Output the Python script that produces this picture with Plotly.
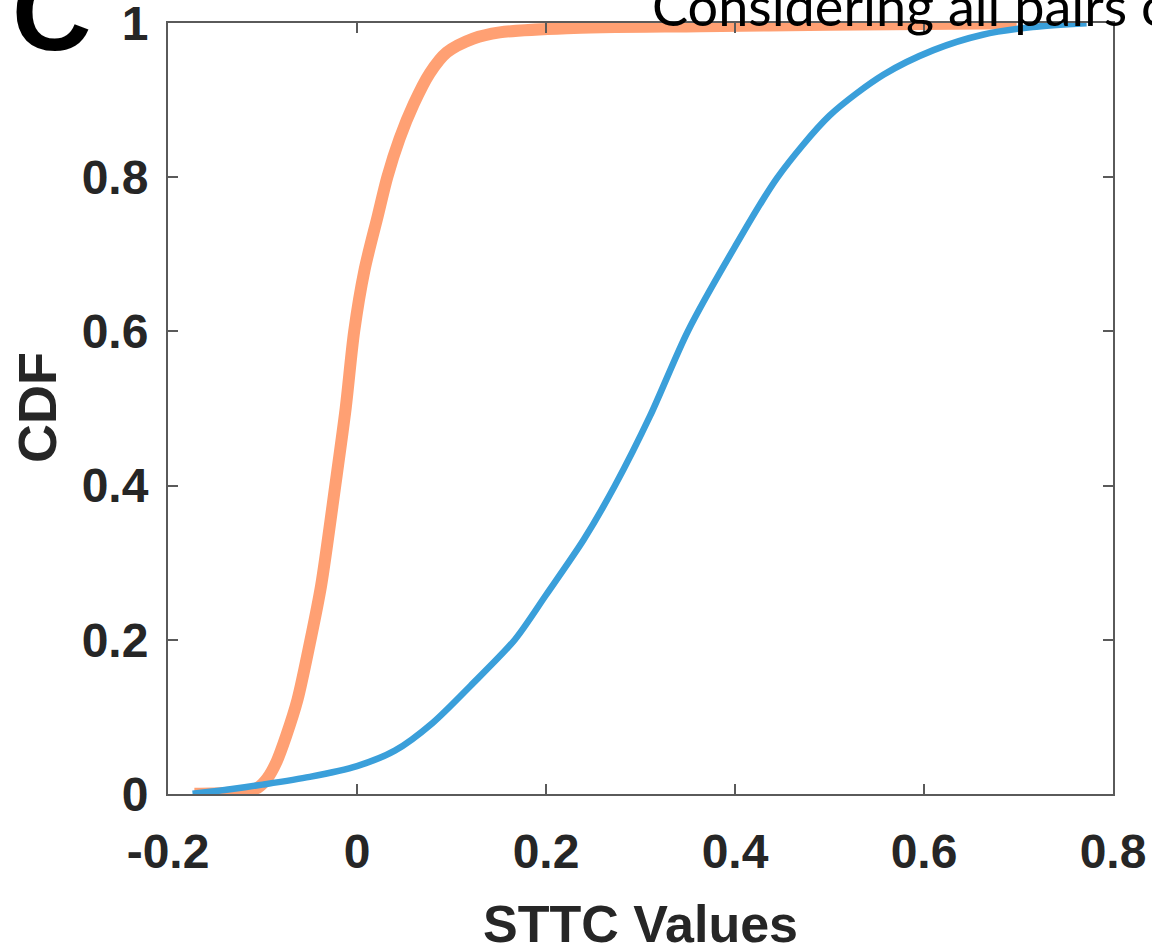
import plotly.graph_objects as go

# STTC values (x) and CDF (y)
orange_x = [-0.172, -0.14, -0.12, -0.105, -0.095, -0.085, -0.075, -0.063, -0.05, -0.038,
            -0.023, -0.012, -0.003, 0.008, 0.022, 0.032, 0.045, 0.06, 0.077, 0.095,
            0.123, 0.151, 0.222, 0.363, 0.5, 0.698]
orange_y = [0.0, 0.001, 0.003, 0.008, 0.02, 0.042, 0.075, 0.122, 0.195, 0.27,
            0.40, 0.50, 0.60, 0.68, 0.75, 0.80, 0.85, 0.895, 0.935, 0.962,
            0.980, 0.988, 0.9935, 0.996, 0.998, 1.0]

blue_x = [-0.174, -0.14, -0.10, -0.05, 0.0, 0.04, 0.08, 0.12, 0.167, 0.20, 0.24,
          0.273, 0.31, 0.35, 0.40, 0.445, 0.50, 0.557, 0.61, 0.662, 0.715, 0.772]
blue_y = [0.0, 0.005, 0.012, 0.022, 0.036, 0.056, 0.092, 0.140, 0.200, 0.258, 0.330,
          0.400, 0.490, 0.600, 0.710, 0.800, 0.880, 0.933, 0.965, 0.985, 0.995, 1.0]

x_ticks = [-0.2, 0, 0.2, 0.4, 0.6, 0.8]
x_tick_labels = ["-0.2", "0", "0.2", "0.4", "0.6", "0.8"]
y_ticks = [0, 0.2, 0.4, 0.6, 0.8, 1]
y_tick_labels = ["0", "0.2", "0.4", "0.6", "0.8", "1"]

W, H = 1152, 945
L, R, T, B = 168, 1113, 23, 794

def px(xp):
    return (xp - L) / (R - L)

def py(yp):
    return (B - yp) / (B - T)

BOLD = dict(family="Liberation Sans, Arial, sans-serif", color="#262626", weight="bold")

fig = go.Figure()
fig.add_trace(go.Scatter(x=orange_x, y=orange_y, mode="lines",
                         line=dict(color="#FFA073", width=12, shape="spline", smoothing=0.8),
                         showlegend=False, hoverinfo="skip"))
fig.add_trace(go.Scatter(x=blue_x, y=blue_y, mode="lines",
                         line=dict(color="#3A9FDA", width=6.5, shape="spline", smoothing=0.8),
                         showlegend=False, hoverinfo="skip"))

axis_common = dict(showline=True, linecolor="#5a5a5a", linewidth=2, mirror="ticks",
                   ticks="inside", ticklen=10, tickwidth=2, tickcolor="#5a5a5a",
                   showgrid=False, zeroline=False, automargin=False,
                   ticklabeloverflow="allow",
                   tickfont=dict(size=48, **BOLD))

fig.update_xaxes(range=[-0.2, 0.8], tickvals=x_ticks, ticktext=x_tick_labels,
                 ticklabelstandoff=14, **axis_common)
fig.update_yaxes(range=[-0.0002, 1.0002], tickvals=y_ticks, ticktext=y_tick_labels,
                 ticklabelstandoff=8, **axis_common)

fig.add_annotation(text="STTC Values", x=px(640), y=py(924), xref="paper", yref="paper",
                   xanchor="center", yanchor="middle", showarrow=False,
                   font=dict(size=52, **BOLD))
fig.add_annotation(text="CDF", x=px(37), y=py(408), xref="paper", yref="paper",
                   xanchor="center", yanchor="middle", showarrow=False, textangle=-90,
                   font=dict(size=54, **BOLD))
fig.add_annotation(text="C", x=px(10), y=py(75), xref="paper", yref="paper",
                   xanchor="left", yanchor="bottom", showarrow=False,
                   font=dict(size=110, family="Liberation Sans, Arial, sans-serif",
                             color="black", weight="bold"))
fig.add_annotation(text="Considering all pairs of", x=px(650), y=py(40), xref="paper", yref="paper",
                   xanchor="left", yanchor="bottom", showarrow=False,
                   font=dict(size=54, family="Lato, sans-serif", color="black"))

fig.update_layout(width=W, height=H, margin=dict(l=L, r=W - R, t=T, b=H - B),
                  plot_bgcolor="white", paper_bgcolor="white")

fig.write_html("out.html", config={"displayModeBar": False},
               post_script="document.body.style.margin='0';document.body.style.overflow='hidden';")
